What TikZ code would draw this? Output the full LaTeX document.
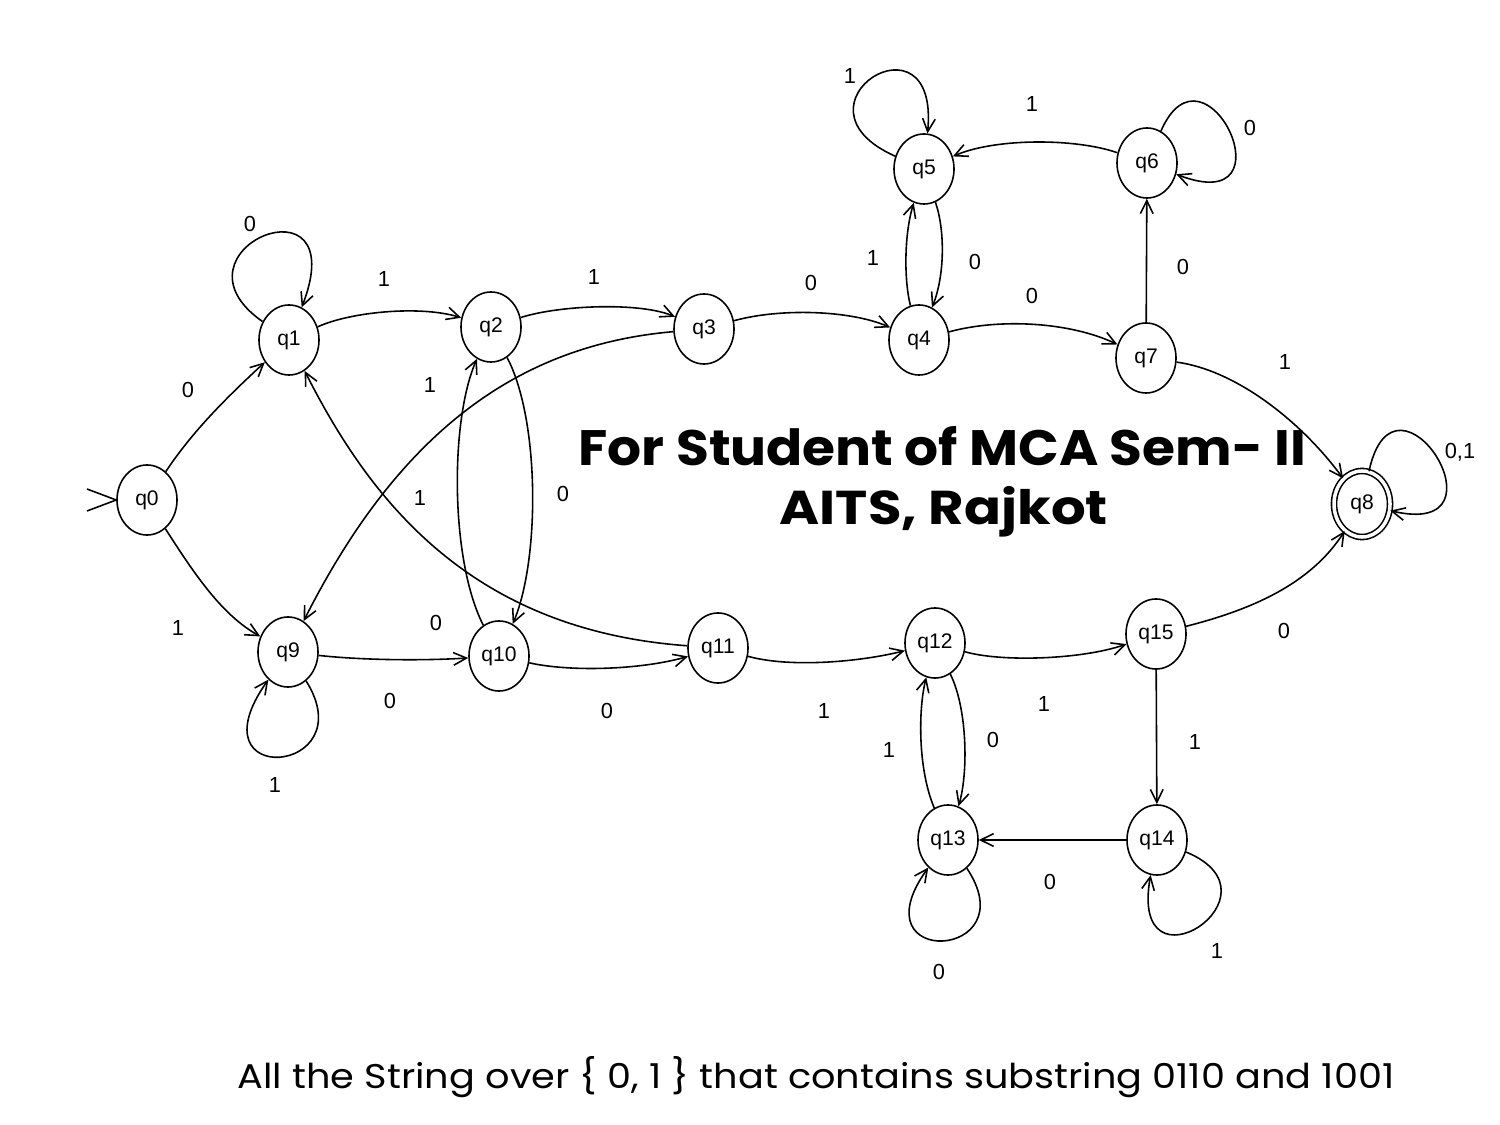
\documentclass[tikz,border=0pt]{standalone}
\usepackage{fontspec}
\usepackage{graphicx}
\setmainfont{Liberation Sans}
\newfontfamily\titlefont{Poppins}
\usetikzlibrary{arrows.meta,shapes.geometric}
\begin{document}
\begin{tikzpicture}[x=0.01cm,y=-0.01cm,
  st/.style={ellipse,draw,line width=0.45pt,minimum width=0.6cm,minimum height=0.7cm,inner sep=0pt,font=\fontsize{6}{7}\selectfont},
  acc/.style={st,double,double distance=0.035cm,minimum width=0.56cm,minimum height=0.66cm},
  tr/.style={line width=0.45pt,-{Straight Barb[length=3.7pt,width=3.6pt]}},
  lbl/.style={font=\fontsize{6.2}{7}\selectfont,inner sep=0pt}]
\fill[white] (0,0) rectangle (1500,1125);
\useasboundingbox (0,0) rectangle (1500,1125);

% states
\node[st] (q0) at (147,500) {q0};
\node[st] (q1) at (289,340) {q1};
\node[st] (q2) at (491,327) {q2};
\node[st] (q3) at (704,329) {q3};
\node[st] (q4) at (919,340) {q4};
\node[st] (q5) at (924,169) {q5};
\node[st] (q6) at (1147,163) {q6};
\node[st] (q7) at (1146,358) {q7};
\node[acc] (q8) at (1362,504) {q8};
\node[st] (q9) at (288,652) {q9};
\node[st] (q10) at (499,656) {q10};
\node[st] (q11) at (718,648) {q11};
\node[st] (q12) at (935,643) {q12};
\node[st] (q13) at (948,840) {q13};
\node[st] (q14) at (1157,840) {q14};
\node[st] (q15) at (1156,634) {q15};

% start marker
\coordinate (s1) at (87,489);
\coordinate (s2) at (87,511);
\draw[line width=0.45pt] (s1) -- (q0.west) -- (s2);

% transitions
\draw[tr] (q0) .. controls (192,432) and (226,398) .. (q1);
\draw[tr] (q0) .. controls (195,575) and (222,615) .. (q9);
\draw[tr] (q1) .. controls (160,250) and (355,170) .. (q1);
\draw[tr] (q1) .. controls (350,312) and (420,305) .. (q2);
\draw[tr] (q2) .. controls (560,305) and (640,302) .. (q3);
\draw[tr] (q3) .. controls (780,308) and (850,310) .. (q4);
\draw[tr] (q4) .. controls (1000,318) and (1070,322) .. (q7);
\draw[tr] (q7) -- (q6);
\draw[tr] (q6) .. controls (1205,30) and (1295,220) .. (q6);
\draw[tr] (q6) .. controls (1075,138) and (995,138) .. (q5);
\draw[tr] (q5) .. controls (780,105) and (940,5) .. (q5);
\draw[tr] (q4) .. controls (904,280) and (904,235) .. (q5);
\draw[tr] (q5) .. controls (945,230) and (945,275) .. (q4);
\draw[tr] (q7) .. controls (1235,370) and (1300,420) .. (q8);
\draw[tr] (q8) .. controls (1395,350) and (1515,540) .. (q8);
\draw[tr] (q9) .. controls (365,775) and (190,790) .. (q9);
\draw[tr] (q9) .. controls (360,660) and (420,661) .. (q10);
\draw[tr] (q10) .. controls (570,672) and (640,670) .. (q11);
\draw[tr] (q11) .. controls (790,668) and (860,662) .. (q12);
\draw[tr] (q12) .. controls (1000,662) and (1080,660) .. (q15);
\draw[tr] (q15) .. controls (1250,610) and (1310,585) .. (q8);
\draw[tr] (q15) -- (q14);
\draw[tr] (q14) -- (q13);
\draw[tr] (q14) .. controls (1290,895) and (1128,1000) .. (q14);
\draw[tr] (q13) .. controls (1028,960) and (855,970) .. (q13);
\draw[tr] (q13) .. controls (918,770) and (918,710) .. (q12);
\draw[tr] (q12) .. controls (968,710) and (968,775) .. (q13);
\draw[tr] (q2) .. controls (540,420) and (540,560) .. (q10);
\draw[tr] (q10) .. controls (450,560) and (450,420) .. (q2);
\draw[tr] (q11) .. controls (470,630) and (370,500) .. (q1);
\draw[tr] (q3) .. controls (520,345) and (400,430) .. (q9);

% labels
\node[lbl] (l01) at (188,390) {0};
\node[lbl] (l09) at (178,628) {1};
\node[lbl] (l11) at (250,224) {0};
\node[lbl] (l12) at (384,279) {1};
\node[lbl] (l23) at (594,277) {1};
\node[lbl] (l34) at (811,283) {0};
\node[lbl] (l47) at (1032,296) {0};
\node[lbl] (l78) at (1285,362) {1};
\node[lbl] (l76) at (1183,267) {0};
\node[lbl] (l66) at (1250,128) {0};
\node[lbl] (l65) at (1032,104) {1};
\node[lbl] (l55) at (850,76) {1};
\node[lbl] (l54) at (975,262) {0};
\node[lbl] (l45) at (873,258) {1};
\node[lbl] (l88) at (1460,452) {0,1};
\node[lbl] (l39) at (430,385) {1};
\node[lbl] (l102) at (420,498) {1};
\node[lbl] (l210) at (563,494) {0};
\node[lbl] (l111) at (436,623) {0};
\node[lbl] (l910) at (390,701) {0};
\node[lbl] (l99) at (275,785) {1};
\node[lbl] (l1011) at (607,711) {0};
\node[lbl] (l1112) at (824,711) {1};
\node[lbl] (l1215) at (1044,704) {1};
\node[lbl] (l158) at (1284,631) {0};
\node[lbl] (l1514) at (1195,742) {1};
\node[lbl] (l1413) at (1050,882) {0};
\node[lbl] (l1414) at (1217,951) {1};
\node[lbl] (l1313) at (939,972) {0};
\node[lbl] (l1213) at (993,740) {0};
\node[lbl] (l1312) at (889,750) {1};

% texts
\node[anchor=base west,inner sep=0pt] (t1) at (578,466) {\resizebox{7.27cm}{0.39cm}{\titlefont\bfseries For Student of MCA Sem- II}};
\node[anchor=base west,inner sep=0pt] (t2) at (779,525) {\resizebox{3.28cm}{0.38cm}{\titlefont\bfseries AITS, Rajkot}};
\node[anchor=base west,inner sep=0pt] (cap) at (237,1088) {\resizebox{11.56cm}{0.32cm}{\titlefont All the String over \{ 0, 1 \} that contains substring 0110 and 1001}};
\end{tikzpicture}
\end{document}
